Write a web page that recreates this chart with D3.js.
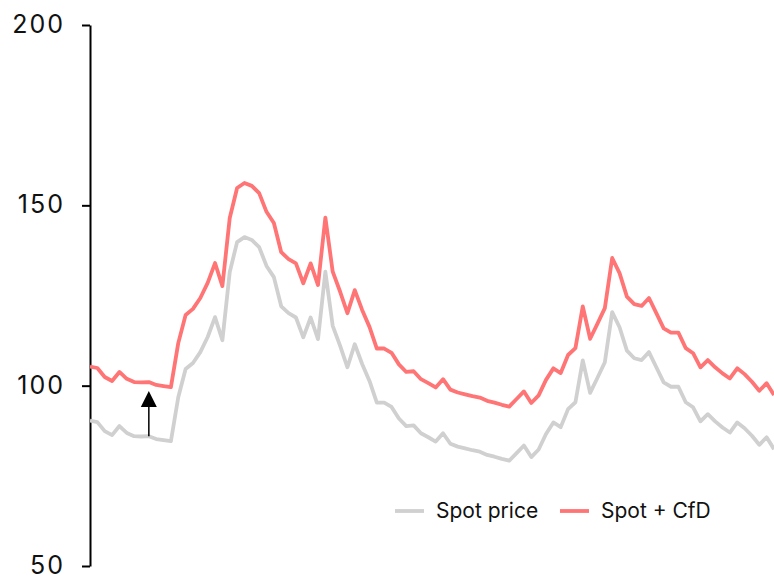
<!DOCTYPE html>
<html>
<head>
<meta charset="utf-8">
<script src="https://cdn.jsdelivr.net/npm/d3@7"></script>
<style>
  html, body { margin: 0; padding: 0; background: #fff; }
  svg { display: block; font-family: Inter, "Noto Sans", sans-serif; }
</style>
</head>
<body>
<svg id="chart" width="774" height="576"></svg>
<script>
// Monthly price index: wholesale spot price and spot price plus CfD cost
const spotPrice = [
  90.3, 89.9, 87.4, 86.3, 88.8, 86.9, 86.0, 85.9, 86.0, 85.2, 84.9, 84.6,
  96.8, 104.6, 106.3, 109.3, 113.5, 119.0, 112.6, 131.5, 139.8, 141.2, 140.4, 138.4,
  133.2, 130.1, 122.0, 120.1, 118.9, 113.4, 118.9, 112.9, 131.6, 116.6, 111.1, 105.1,
  111.5, 106.0, 101.3, 95.3, 95.3, 94.1, 90.9, 88.8, 89.0, 86.8, 85.7, 84.5,
  86.8, 83.9, 83.1, 82.6, 82.1, 81.7, 80.8, 80.3, 79.7, 79.2, 81.3, 83.4,
  80.2, 82.3, 86.6, 89.8, 88.5, 93.5, 95.4, 107.0, 98.0, 102.2, 106.5, 120.4,
  116.2, 109.7, 107.6, 107.1, 109.3, 105.1, 100.9, 99.7, 99.7, 95.4, 94.0, 90.1,
  92.1, 90.1, 88.4, 87.0, 89.8, 88.2, 86.1, 83.6, 85.7, 82.4
];
const spotPlusCfd = [
  105.3, 104.9, 102.4, 101.3, 103.8, 101.9, 101.0, 100.9, 101.0, 100.2, 99.9, 99.6,
  111.8, 119.6, 121.3, 124.3, 128.5, 134.0, 127.6, 146.5, 154.8, 156.2, 155.4, 153.4,
  148.2, 145.1, 137.0, 135.1, 133.9, 128.4, 133.9, 127.9, 146.6, 131.6, 126.1, 120.1,
  126.5, 121.0, 116.3, 110.3, 110.3, 109.1, 105.9, 103.8, 104.0, 101.8, 100.7, 99.5,
  101.8, 98.9, 98.1, 97.6, 97.1, 96.7, 95.8, 95.3, 94.7, 94.2, 96.3, 98.4,
  95.2, 97.3, 101.6, 104.8, 103.5, 108.5, 110.4, 122.0, 113.0, 117.2, 121.5, 135.4,
  131.2, 124.7, 122.6, 122.1, 124.3, 120.1, 115.9, 114.7, 114.7, 110.4, 109.0, 105.1,
  107.1, 105.1, 103.4, 102.0, 104.8, 103.2, 101.1, 98.6, 100.7, 97.4
];
const yTicks = [50, 100, 150, 200];
const seriesNames = ["Spot price", "Spot + CfD"];
const seriesColors = ["#d0d0d0", "#ff7474"];
// month where the CfD uplift is highlighted
const arrowIndex = 8;
const arrowGap = 2.5;

const svg = d3.select("#chart");
const margin = { left: 90, right: 0, top: 25, bottom: 10 };
const W = 774, H = 576;

const x = d3.scaleLinear()
  .domain([0, spotPrice.length - 1])
  .range([margin.left, W - margin.right]);
const y = d3.scaleLinear()
  .domain([50, 200])
  .range([566, margin.top]);

// y axis
const yAxis = d3.axisLeft(y)
  .tickValues(yTicks)
  .tickSize(8)
  .tickSizeOuter(0)
  .tickPadding(17)
  .tickFormat(d3.format("d"));
const gy = svg.append("g")
  .attr("transform", `translate(${margin.left},0)`)
  .call(yAxis);
gy.select(".domain").attr("stroke", "#000").attr("stroke-width", 2);
gy.selectAll(".tick line").attr("stroke", "#000").attr("stroke-width", 2);
gy.selectAll(".tick text")
  .attr("fill", "#111")
  .attr("dy", "0.3em")
  .style("font-size", "25px")
  .style("letter-spacing", "2px")
  .style("font-family", "Inter, 'Noto Sans', sans-serif");

// lines
const line = d3.line()
  .x((d, i) => x(i))
  .y(d => y(d));

svg.append("clipPath").attr("id", "plot-clip")
  .append("rect")
  .attr("x", margin.left).attr("y", 0)
  .attr("width", W - margin.left).attr("height", H);

const plot = svg.append("g").attr("clip-path", "url(#plot-clip)");
[spotPrice, spotPlusCfd].forEach((s, k) => {
  plot.append("path")
    .datum(s)
    .attr("fill", "none")
    .attr("stroke", seriesColors[k])
    .attr("stroke-width", 3.8)
    .attr("stroke-linejoin", "round")
    .attr("stroke-linecap", "butt")
    .attr("d", line);
});

// arrow from spot price up to spot + CfD
const ax = x(arrowIndex);
const yBase = y(spotPrice[arrowIndex]);
const yTip = y(spotPlusCfd[arrowIndex] - arrowGap);
const headH = 16, headW = 16;
svg.append("line")
  .attr("x1", ax).attr("x2", ax)
  .attr("y1", yBase).attr("y2", yTip + headH)
  .attr("stroke", "#000").attr("stroke-width", 1.5);
svg.append("path")
  .attr("d", `M${ax},${yTip} L${ax - headW / 2},${yTip + headH} L${ax + headW / 2},${yTip + headH} Z`)
  .attr("fill", "#000");

// legend
const legend = svg.append("g").attr("transform", "translate(395,511)");
const legendX = [0, 165];
seriesNames.forEach((name, k) => {
  const g = legend.append("g").attr("transform", `translate(${legendX[k]},0)`);
  g.append("line")
    .attr("x1", 0).attr("x2", 29)
    .attr("y1", 0).attr("y2", 0)
    .attr("stroke", seriesColors[k])
    .attr("stroke-width", 3.8);
  g.append("text")
    .attr("x", 41).attr("y", 0)
    .attr("dy", "0.35em")
    .attr("fill", "#111")
    .style("font-size", "21px")
    .text(name);
});
</script>
</body>
</html>
